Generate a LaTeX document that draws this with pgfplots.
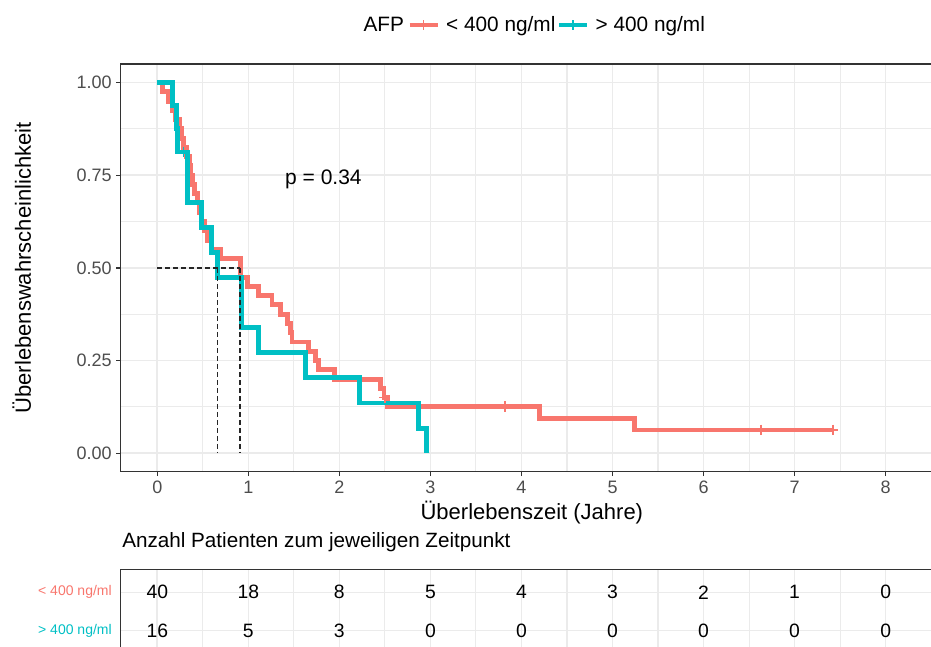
\documentclass[border=0pt]{standalone}
\usepackage{pgfplots}
\pgfplotsset{compat=1.18}
\usepackage{fontspec}
\setmainfont{Liberation Sans}
\definecolor{kmred}{HTML}{F8766D}
\definecolor{kmteal}{HTML}{00BFC4}
\definecolor{gridgrey}{HTML}{EBEBEB}
\definecolor{bordergrey}{HTML}{333333}
\definecolor{ticktext}{HTML}{4D4D4D}
\begin{document}
\begin{tikzpicture}
\path[use as bounding box] (0pt,0pt) rectangle (698.25pt,484.5pt);
\begin{axis}[
  at={(90.5pt,130.7pt)}, anchor=south west,
  scale only axis, width=614.7pt, height=305.8pt,
  xmin=-0.402, xmax=8.6, ymin=-0.05, ymax=1.05,
  xtick={0,1,2,3,4,5,6,7,8},
  minor xtick={0.5,1.5,2.5,3.5,4.5,5.5,6.5,7.5,8.5},
  ytick={0,0.25,0.5,0.75,1},
  yticklabels={0.00,0.25,0.50,0.75,1.00},
  minor ytick={0.125,0.375,0.625,0.875},
  grid=both,
  major grid style={gridgrey, line width=1.2pt},
  minor grid style={gridgrey, line width=0.8pt},
  axis line style={bordergrey, line width=1.1pt},
  tick align=outside, tick pos=left,
  major tick length=3.3pt, minor tick length=0pt,
  tick style={bordergrey, line width=1pt},
  ticklabel style={font=\fontsize{13.5}{16}\selectfont, text=ticktext},
  /pgf/number format/assume math mode=true,
  xlabel={Überlebenszeit (Jahre)},
  ylabel={Überlebenswahrscheinlichkeit},
  label style={font=\fontsize{16.5}{19}\selectfont},
  xlabel style={at={(axis description cs:0.5017,-0.1013)}, anchor=center},
  ylabel style={at={(axis description cs:-0.1207,0.5)}, anchor=center},
  legend columns=-1,
  legend cell align=left,
  legend style={at={(axis description cs:0.2878,1.0957)}, anchor=west,
    draw=none, fill=none, inner sep=0pt, outer sep=0pt,
    font=\fontsize{15.6}{18}\selectfont,
    nodes={inner sep=0pt},
    /tikz/every odd column/.append style={column sep=5.25pt},
    /tikz/column 2/.append style={column sep=3pt},
    /tikz/column 4/.append style={column sep=1.5pt}},
  legend image code/.code={
    \draw[#1, line width=2.4pt] (0pt,0pt) -- (21pt,0pt);
    \draw[#1, line width=1pt] (10.5pt,-3.75pt) -- (10.5pt,3.75pt);
  },
]
\addlegendimage{empty legend}
\addlegendentry{AFP}
\addlegendimage{kmred}
\addlegendentry{< 400 ng/ml}
\addlegendimage{kmteal}
\addlegendentry{> 400 ng/ml}

\addplot[kmred, line width=3.7pt, const plot, mark=none, forget plot] coordinates {
(0,1) (0.06,0.975) (0.125,0.95) (0.17,0.925) (0.20,0.9) (0.24,0.875) (0.27,0.85)
(0.29,0.825) (0.32,0.8) (0.35,0.775) (0.37,0.75) (0.39,0.725) (0.41,0.7) (0.44,0.675)
(0.46,0.65) (0.49,0.625) (0.52,0.6) (0.55,0.575) (0.60,0.55) (0.69,0.525) (0.91,0.475)
(0.99,0.45) (1.115,0.425) (1.26,0.4) (1.35,0.375) (1.43,0.35) (1.46,0.325) (1.48,0.3)
(1.66,0.275) (1.74,0.25) (1.775,0.225) (1.95,0.2) (2.45,0.175) (2.49,0.15) (2.53,0.125)
(4.2,0.09375) (5.24,0.0625) (7.42,0.0625)};
\addplot[kmred, only marks, mark=+, mark size=4.1pt, line width=1pt, forget plot] coordinates {
(2.5,0.15) (3.82,0.125) (6.63,0.0625) (7.42,0.0625)};

\addplot[kmteal, line width=3.7pt, const plot, mark=none, forget plot] coordinates {
(0,1) (0.17,0.9375) (0.21,0.875) (0.22,0.8125) (0.33,0.677) (0.49,0.609) (0.60,0.542)
(0.665,0.474) (0.93,0.339) (1.115,0.271) (1.63,0.203) (2.22,0.1355) (2.865,0.0677) (2.957,0)};
\addplot[kmteal, only marks, mark=+, mark size=4.1pt, line width=1pt, forget plot] coordinates {
(0.29,0.8125)};

\addplot[black!85, line width=1pt, dash pattern=on 3.75pt off 2.25pt, forget plot] coordinates {(0,0.5) (0.91,0.5)};
\addplot[black!85, line width=1pt, dash pattern=on 3.75pt off 2.25pt, forget plot] coordinates {(0.665,0.5) (0.665,0)};
\addplot[black!85, line width=1pt, dash pattern=on 3.75pt off 2.25pt, forget plot] coordinates {(0.91,0.5) (0.91,0)};

\node[font=\fontsize{15.75}{18}\selectfont] at (axis cs:1.825,0.738) {p = 0.34};
\end{axis}

\begin{axis}[
  at={(90.5pt,57.5pt)}, anchor=north west,
  scale only axis, width=614.7pt, height=63.2pt,
  xmin=-0.402, xmax=8.6, ymin=0.4, ymax=2.6,
  xtick={0,1,2,3,4,5,6,7,8},
  minor xtick={0.5,1.5,2.5,3.5,4.5,5.5,6.5,7.5,8.5},
  xticklabels={},
  ytick={1,2},
  yticklabels={{\color{kmteal}> 400 ng/ml},{\color{kmred}< 400 ng/ml}},
  grid=both,
  major grid style={gridgrey, line width=1.2pt},
  minor grid style={gridgrey, line width=0.8pt},
  axis line style={bordergrey, line width=1.1pt},
  major tick length=0pt, minor tick length=0pt,
  yticklabel style={font=\fontsize{10.5}{12}\selectfont, anchor=east, inner sep=0pt, xshift=-6.5pt},
  title={Anzahl Patienten zum jeweiligen Zeitpunkt},
  title style={at={(axis description cs:0,1)}, anchor=base west, inner sep=0pt, yshift=10.7pt, xshift=1pt, font=\fontsize{15.5}{18}\selectfont},
]
\addplot[only marks, mark=none, nodes near coords, point meta=explicit symbolic,
  nodes near coords style={anchor=center, font=\fontsize{14.5}{17}\selectfont, text=black}]
  table[meta=label] {
x y label
0 2 40
1 2 18
2 2 8
3 2 5
4 2 4
5 2 3
6 2 2
7 2 1
8 2 0
0 1 16
1 1 5
2 1 3
3 1 0
4 1 0
5 1 0
6 1 0
7 1 0
8 1 0
};
\end{axis}
\end{tikzpicture}
\end{document}
